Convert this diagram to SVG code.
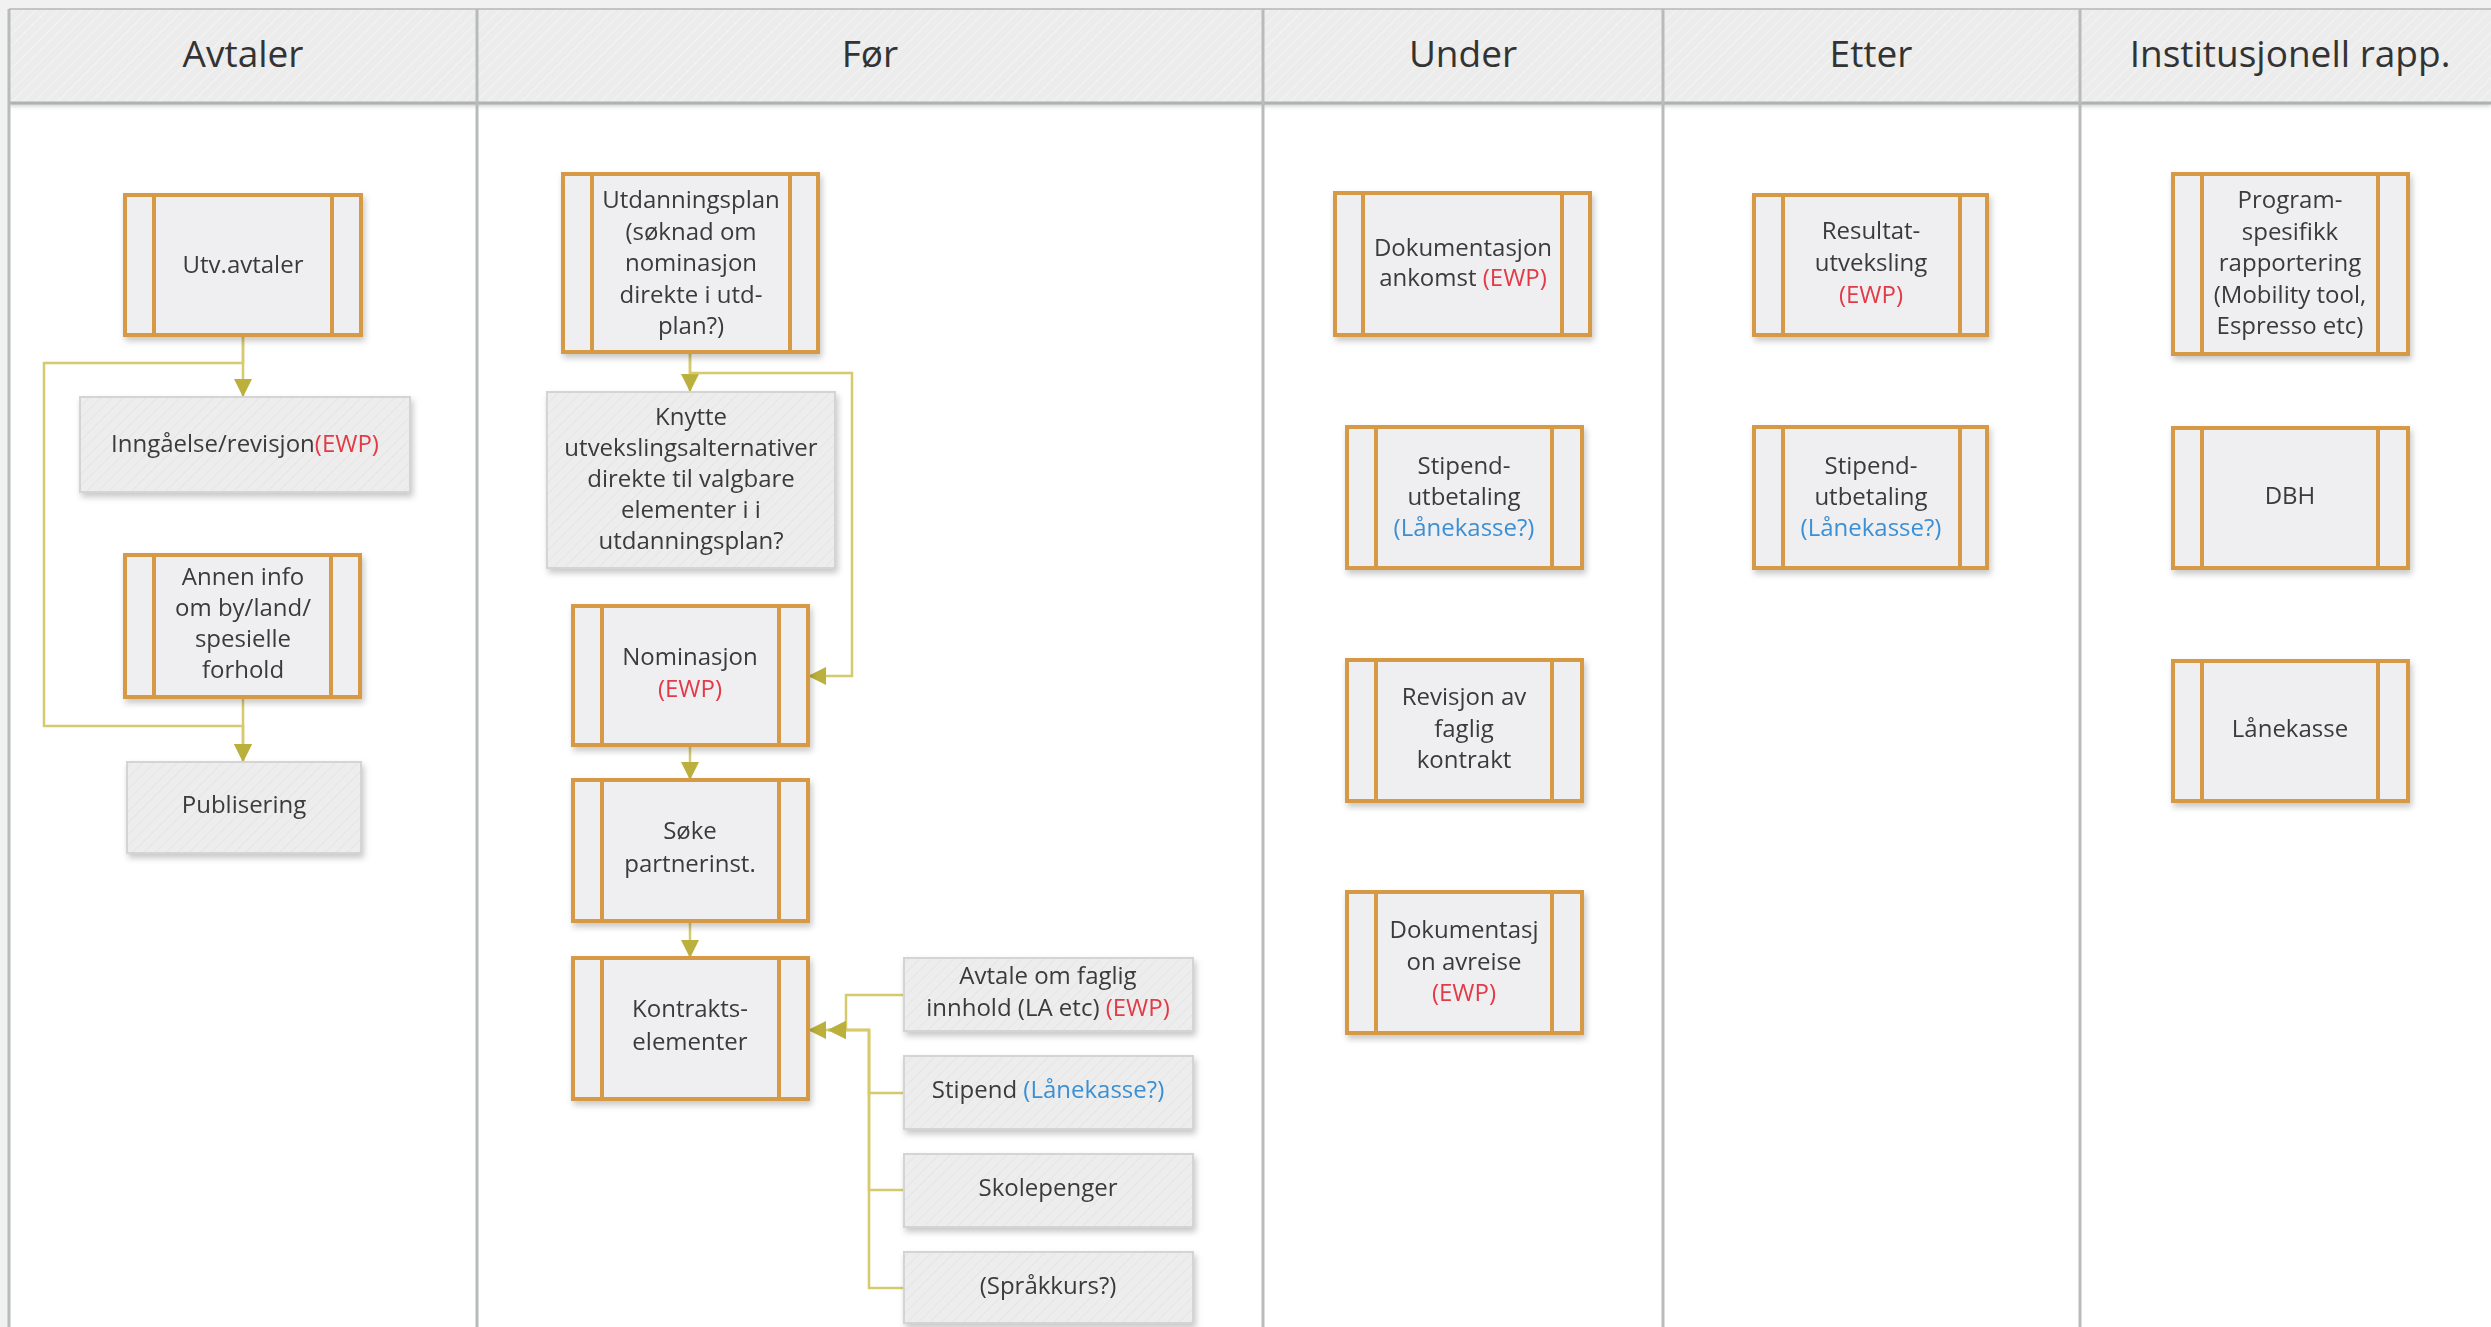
<svg xmlns="http://www.w3.org/2000/svg" width="2491" height="1327" viewBox="0 0 2491 1327">
<defs>
<style>
.hd{font-family:"Open Sans","Noto Sans","Liberation Sans",sans-serif;font-size:37px;fill:#333;text-anchor:middle}
.t{font-family:"Open Sans","Noto Sans","Liberation Sans",sans-serif;font-size:24px;fill:#3a3a3a;text-anchor:middle}
.ewp{fill:#e23a46}
.lk{fill:#3b8fd4}
.pp{fill:#efeff1;stroke:#d69a46;stroke-width:4}
.pl{stroke:#d69a46;stroke-width:4}
.gb{fill:url(#hatchBox);stroke:#d4d4d4;stroke-width:2}
.conn{stroke:#d6c96e;stroke-width:2.5;fill:none}
.col{stroke:#b7bbbb;stroke-width:3}
</style>
<pattern id="hatchHdr" width="8" height="8" patternUnits="userSpaceOnUse" patternTransform="rotate(45)">
<rect width="8" height="8" fill="#ececec"/>
<line x1="0" y1="0" x2="0" y2="8" stroke="#f3f3f3" stroke-width="2"/>
</pattern>
<pattern id="hatchBox" width="8" height="8" patternUnits="userSpaceOnUse" patternTransform="rotate(45)">
<rect width="8" height="8" fill="#ededed"/>
<line x1="0" y1="0" x2="0" y2="8" stroke="#e5e5e5" stroke-width="2"/>
</pattern>
<filter id="sh" x="-10%" y="-10%" width="125%" height="130%">
<feDropShadow dx="2" dy="4" stdDeviation="3" flood-color="#000" flood-opacity="0.22"/>
</filter>
<filter id="hsh" x="0" y="-20%" width="100%" height="150%">
<feDropShadow dx="0" dy="3" stdDeviation="2" flood-color="#000" flood-opacity="0.2"/>
</filter>
<marker id="arr" viewBox="0 0 10 10" refX="10" refY="5" markerWidth="18" markerHeight="18" markerUnits="userSpaceOnUse" orient="auto">
<path d="M0,0 L10,5 L0,10 z" fill="#bcb03c"/>
</marker>
</defs>

<rect width="2491" height="1327" fill="#f1f1f1"/>
<rect x="9" y="103" width="2482" height="1224" fill="#ffffff"/>
<rect x="9" y="9" width="2482" height="94" fill="url(#hatchHdr)" filter="url(#hsh)"/>
<line x1="9" y1="9" x2="2491" y2="9" stroke="#c4c4c4" stroke-width="2"/>
<line x1="9" y1="103" x2="2491" y2="103" stroke="#aeb2b2" stroke-width="3"/>
<g id="lanes">
<line class="col" x1="9" y1="9" x2="9" y2="1327"/>
<line class="col" x1="477" y1="9" x2="477" y2="1327"/>
<line class="col" x1="1263" y1="9" x2="1263" y2="1327"/>
<line class="col" x1="1663" y1="9" x2="1663" y2="1327"/>
<line class="col" x1="2080" y1="9" x2="2080" y2="1327"/>
<text class="hd" x="243" y="67">Avtaler</text>
<text class="hd" x="870" y="67">Før</text>
<text class="hd" x="1463" y="67">Under</text>
<text class="hd" x="1871" y="67">Etter</text>
<text class="hd" x="2290" y="67">Institusjonell rapp.</text>
</g>

<g id="connectors">
<path class="conn" d="M243,335 V397" marker-end="url(#arr)"/>
<path class="conn" d="M243,335 V363 H44 V726 H243 V762" marker-end="url(#arr)"/>
<path class="conn" d="M243,697 V762" marker-end="url(#arr)"/>
<path class="conn" d="M690,352 V392" marker-end="url(#arr)"/>
<path class="conn" d="M690,352 V373 H852 V676 H808" marker-end="url(#arr)"/>
<path class="conn" d="M690,745 V780" marker-end="url(#arr)"/>
<path class="conn" d="M690,921 V958" marker-end="url(#arr)"/>
<path class="conn" d="M904,995 H846 V1030 H808" marker-end="url(#arr)"/>
<path class="conn" d="M904,1093 H869 V1030 H828" marker-end="url(#arr)"/>
<path class="conn" d="M904,1190 H869 V1030 H828" marker-end="url(#arr)"/>
<path class="conn" d="M904,1288 H869 V1030 H828" marker-end="url(#arr)"/>
</g>

<g id="n_utv" filter="url(#sh)">
<rect class="pp" x="125" y="195" width="236" height="140"/>
<line class="pl" x1="154" y1="195" x2="154" y2="335"/><line class="pl" x1="332" y1="195" x2="332" y2="335"/>
<text class="t" x="243" y="273">Utv.avtaler</text>
</g>
<g id="n_inngaaelse" filter="url(#sh)">
<rect class="gb" x="80" y="397" width="330" height="95"/>
<text class="t" x="245" y="452">Inngåelse/revisjon<tspan class="ewp">(EWP)</tspan></text>
</g>
<g id="n_annen" filter="url(#sh)">
<rect class="pp" x="125" y="555" width="235" height="142"/>
<line class="pl" x1="154" y1="555" x2="154" y2="697"/><line class="pl" x1="331" y1="555" x2="331" y2="697"/>
<text class="t" x="243" y="585">Annen info<tspan x="243" dy="31">om by/land/</tspan><tspan x="243" dy="31">spesielle</tspan><tspan x="243" dy="31">forhold</tspan></text>
</g>
<g id="n_publisering" filter="url(#sh)">
<rect class="gb" x="127" y="762" width="234" height="91"/>
<text class="t" x="244" y="813">Publisering</text>
</g>

<g id="n_utdanningsplan" filter="url(#sh)">
<rect class="pp" x="563" y="174" width="255" height="178"/>
<line class="pl" x1="592" y1="174" x2="592" y2="352"/><line class="pl" x1="790" y1="174" x2="790" y2="352"/>
<text class="t" x="691" y="208">Utdanningsplan<tspan x="691" dy="31.5">(søknad om</tspan><tspan x="691" dy="31.5">nominasjon</tspan><tspan x="691" dy="31.5">direkte i utd-</tspan><tspan x="691" dy="31.5">plan?)</tspan></text>
</g>
<g id="n_knytte" filter="url(#sh)">
<rect class="gb" x="547" y="392" width="288" height="176"/>
<text class="t" x="691" y="425">Knytte<tspan x="691" dy="31">utvekslingsalternativer</tspan><tspan x="691" dy="31">direkte til valgbare</tspan><tspan x="691" dy="31">elementer i i</tspan><tspan x="691" dy="31">utdanningsplan?</tspan></text>
</g>
<g id="n_nominasjon" filter="url(#sh)">
<rect class="pp" x="573" y="606" width="235" height="139"/>
<line class="pl" x1="602" y1="606" x2="602" y2="745"/><line class="pl" x1="779" y1="606" x2="779" y2="745"/>
<text class="t" x="690" y="665">Nominasjon<tspan class="ewp" x="690" dy="32">(EWP)</tspan></text>
</g>
<g id="n_soke" filter="url(#sh)">
<rect class="pp" x="573" y="780" width="235" height="141"/>
<line class="pl" x1="602" y1="780" x2="602" y2="921"/><line class="pl" x1="779" y1="780" x2="779" y2="921"/>
<text class="t" x="690" y="839">Søke<tspan x="690" dy="33">partnerinst.</tspan></text>
</g>
<g id="n_kontrakt" filter="url(#sh)">
<rect class="pp" x="573" y="958" width="235" height="141"/>
<line class="pl" x1="602" y1="958" x2="602" y2="1099"/><line class="pl" x1="779" y1="958" x2="779" y2="1099"/>
<text class="t" x="690" y="1017">Kontrakts-<tspan x="690" dy="33">elementer</tspan></text>
</g>
<g id="n_avtale" filter="url(#sh)">
<rect class="gb" x="904" y="958" width="289" height="73"/>
<text class="t" x="1048" y="984">Avtale om faglig<tspan x="1048" dy="32">innhold (LA etc) </tspan><tspan class="ewp">(EWP)</tspan></text>
</g>
<g id="n_stipend" filter="url(#sh)">
<rect class="gb" x="904" y="1056" width="289" height="73"/>
<text class="t" x="1048" y="1098">Stipend <tspan class="lk">(Lånekasse?)</tspan></text>
</g>
<g id="n_skolepenger" filter="url(#sh)">
<rect class="gb" x="904" y="1154" width="289" height="73"/>
<text class="t" x="1048" y="1196">Skolepenger</text>
</g>
<g id="n_sprakkurs" filter="url(#sh)">
<rect class="gb" x="904" y="1252" width="289" height="71"/>
<text class="t" x="1048" y="1294">(Språkkurs?)</text>
</g>

<g id="n_dok_ankomst" filter="url(#sh)">
<rect class="pp" x="1335" y="193" width="255" height="142"/>
<line class="pl" x1="1363" y1="193" x2="1363" y2="335"/><line class="pl" x1="1562" y1="193" x2="1562" y2="335"/>
<text class="t" x="1463" y="256">Dokumentasjon<tspan x="1463" dy="30">ankomst </tspan><tspan class="ewp">(EWP)</tspan></text>
</g>
<g id="n_stipend_under" filter="url(#sh)">
<rect class="pp" x="1347" y="427" width="235" height="141"/>
<line class="pl" x1="1376" y1="427" x2="1376" y2="568"/><line class="pl" x1="1552" y1="427" x2="1552" y2="568"/>
<text class="t" x="1464" y="474">Stipend-<tspan x="1464" dy="31">utbetaling</tspan><tspan class="lk" x="1464" dy="31">(Lånekasse?)</tspan></text>
</g>
<g id="n_revisjon" filter="url(#sh)">
<rect class="pp" x="1347" y="660" width="235" height="141"/>
<line class="pl" x1="1376" y1="660" x2="1376" y2="801"/><line class="pl" x1="1552" y1="660" x2="1552" y2="801"/>
<text class="t" x="1464" y="705">Revisjon av<tspan x="1464" dy="31.5">faglig</tspan><tspan x="1464" dy="31.5">kontrakt</tspan></text>
</g>
<g id="n_dok_avreise" filter="url(#sh)">
<rect class="pp" x="1347" y="892" width="235" height="141"/>
<line class="pl" x1="1376" y1="892" x2="1376" y2="1033"/><line class="pl" x1="1552" y1="892" x2="1552" y2="1033"/>
<text class="t" x="1464" y="938">Dokumentasj<tspan x="1464" dy="31.5">on avreise</tspan><tspan class="ewp" x="1464" dy="31.5">(EWP)</tspan></text>
</g>

<g id="n_resultat" filter="url(#sh)">
<rect class="pp" x="1754" y="195" width="233" height="140"/>
<line class="pl" x1="1783" y1="195" x2="1783" y2="335"/><line class="pl" x1="1960" y1="195" x2="1960" y2="335"/>
<text class="t" x="1871" y="239">Resultat-<tspan x="1871" dy="32">utveksling</tspan><tspan class="ewp" x="1871" dy="32">(EWP)</tspan></text>
</g>
<g id="n_stipend_etter" filter="url(#sh)">
<rect class="pp" x="1754" y="427" width="233" height="141"/>
<line class="pl" x1="1783" y1="427" x2="1783" y2="568"/><line class="pl" x1="1960" y1="427" x2="1960" y2="568"/>
<text class="t" x="1871" y="474">Stipend-<tspan x="1871" dy="31">utbetaling</tspan><tspan class="lk" x="1871" dy="31">(Lånekasse?)</tspan></text>
</g>

<g id="n_program" filter="url(#sh)">
<rect class="pp" x="2173" y="174" width="235" height="180"/>
<line class="pl" x1="2202" y1="174" x2="2202" y2="354"/><line class="pl" x1="2378" y1="174" x2="2378" y2="354"/>
<text class="t" x="2290" y="208">Program-<tspan x="2290" dy="31.5">spesifikk</tspan><tspan x="2290" dy="31.5">rapportering</tspan><tspan x="2290" dy="31.5">(Mobility tool,</tspan><tspan x="2290" dy="31.5">Espresso etc)</tspan></text>
</g>
<g id="n_dbh" filter="url(#sh)">
<rect class="pp" x="2173" y="428" width="235" height="140"/>
<line class="pl" x1="2202" y1="428" x2="2202" y2="568"/><line class="pl" x1="2378" y1="428" x2="2378" y2="568"/>
<text class="t" x="2290" y="504">DBH</text>
</g>
<g id="n_lanekasse" filter="url(#sh)">
<rect class="pp" x="2173" y="661" width="235" height="140"/>
<line class="pl" x1="2202" y1="661" x2="2202" y2="801"/><line class="pl" x1="2378" y1="661" x2="2378" y2="801"/>
<text class="t" x="2290" y="737">Lånekasse</text>
</g>
</svg>
